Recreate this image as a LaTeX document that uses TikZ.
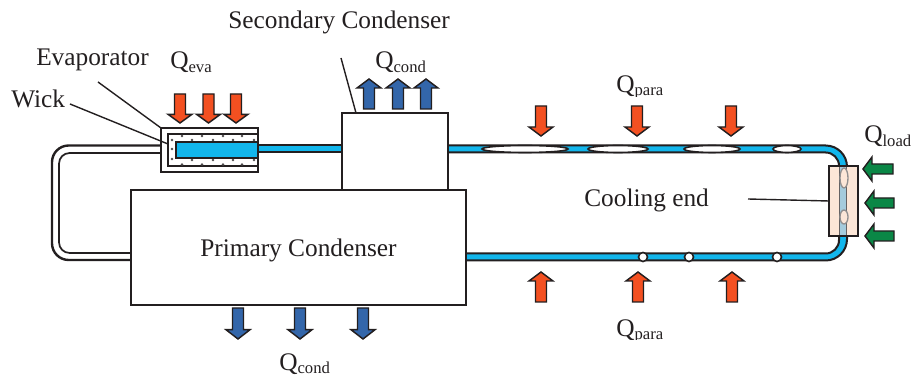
\documentclass[tikz,border=0pt]{standalone}
\usepackage{fontspec}
\usetikzlibrary{shapes.geometric}
\setmainfont{Liberation Serif}
\definecolor{pipeblue}{RGB}{18,182,236}
\definecolor{heatred}{RGB}{243,80,33}
\definecolor{coldblue}{RGB}{51,102,170}
\definecolor{loadgreen}{RGB}{10,135,70}
\definecolor{peach}{RGB}{252,230,215}
\definecolor{paleblue}{RGB}{165,203,220}
\definecolor{ink}{RGB}{35,31,32}
\tikzset{
  line/.style={draw=ink,line width=1.5},
  lead/.style={draw=ink,line width=1.05},
  txt/.style={text=ink,font=\fontsize{19}{19}\selectfont,inner sep=0,anchor=base west},
  bubble/.style={draw=ink,fill=white,line width=1.2},
  dot/.style={fill=ink!80,circle,inner sep=0,minimum size=1.9},
  blockarrow/.style={draw=ink,line width=1.1,fill=#1,miter limit=4},
  box/.style 2 args={minimum width=0.75*#1,minimum height=0.75*#2,inner sep=0,outer sep=0},
}
\newcommand{\Qsub}[1]{Q{\fontsize{12.5}{13}\selectfont\raisebox{-2.4pt}{#1}}}
\newcommand{\varrowblk}[4]{%
  \pgfmathsetmacro{\headb}{#3+(#2-#3)*0.3}%
  \draw[blockarrow=#4] (#1-5.5,#2) -- (#1+5.5,#2) -- (#1+5.5,\headb) -- (#1+12,\headb) -- (#1,#3) -- (#1-12,\headb) -- (#1-5.5,\headb) -- cycle;}
\newcommand{\harrowblk}[4]{%
  \draw[blockarrow=#4] (#1,#3-5) -- (#2+9,#3-5) -- (#2+9,#3-12) -- (#2,#3) -- (#2+9,#3+12) -- (#2+9,#3+5) -- (#1,#3+5) -- cycle;}
\begin{document}
\begin{tikzpicture}[x=0.75pt,y=-0.75pt]
\useasboundingbox (0,0) rectangle (913,377);
% white return line
\draw[line,line width=1.8,rounded corners=12.5] (161,145.5) -- (52,145.5) -- (52,260) -- (131,260);
\draw[line,line width=1.3,rounded corners=8] (161,153) -- (59,153) -- (59,253) -- (131,253);
% blue pipe
\draw[line,fill=pipeblue] (258,145.5) rectangle (342,152.5);
\draw[pipeblue,line width=5,rounded corners=13] (448,149) -- (843,149) -- (843,257) -- (466,257);
\draw[line,rounded corners=16] (448,145.5) -- (847,145.5) -- (847,260.5) -- (466,260.5);
\draw[line,rounded corners=10] (448,152.5) -- (839,152.5) -- (839,253.5) -- (466,253.5);
% evaporator
\node[line,fill=white,box={97}{44},anchor=north west] (evap) at (161,128) {};
\node[line,line width=1.2,fill=white,box={90}{32},anchor=north west] (wickbox) at (168,134) {};
\foreach \x in {182,202,223,242}{\node[dot] at (\x,136){}; \node[dot] at (\x,164.5){};}
\foreach \x in {192,213,233,254}{\node[dot] at (\x,140){}; \node[dot] at (\x,160){};}
\foreach \y in {140,149,159}{\node[dot] at (172,\y){};}
\node[line,line width=1.2,fill=pipeblue,box={82}{16},anchor=north west] (blue) at (176,142) {};
% blocks
\node[line,fill=white,box={106}{77},anchor=north west] (sec) at (342,113) {};
\node[line,fill=white,box={335}{115},anchor=north west] (pri) at (131,190) {};
% bubbles
\node[bubble,ellipse,box={86}{7}] at (525,149) {};
\node[bubble,ellipse,box={60}{7}] at (618,149) {};
\node[bubble,ellipse,box={56}{7}] at (712,149) {};
\node[bubble,ellipse,box={28}{7}] at (787,149) {};
\node[bubble,circle,box={9}{9}] at (643,257) {};
\node[bubble,circle,box={9}{9}] at (689,257) {};
\node[bubble,circle,box={9}{9}] at (777,257) {};
% cooling end
\node[draw=ink,line width=1.2,fill=peach,box={29}{70},anchor=north west] (cool) at (829,166) {};
\fill[paleblue] (839.5,166.6) rectangle (846.5,235.4);
\draw[ink!70,line width=.5] (839.5,166.6) -- (839.5,235.4) (846.5,166.6) -- (846.5,235.4);
\node[draw=ink!50,line width=1,fill=peach,ellipse,box={8}{20}] at (844,178) {};
\node[draw=ink!50,line width=1,fill=peach,ellipse,box={8}{14}] at (844,217) {};
% arrows
\varrowblk{180}{94}{123}{heatred}
\varrowblk{208.5}{94}{123}{heatred}
\varrowblk{236}{94}{123}{heatred}
\varrowblk{369}{109}{79}{coldblue}
\varrowblk{398}{109}{79}{coldblue}
\varrowblk{426}{109}{79}{coldblue}
\varrowblk{541}{106}{136}{heatred}
\varrowblk{637}{106}{136}{heatred}
\varrowblk{731}{106}{136}{heatred}
\varrowblk{541}{302}{272}{heatred}
\varrowblk{638}{302}{272}{heatred}
\varrowblk{732}{302}{272}{heatred}
\varrowblk{238}{308}{339}{coldblue}
\varrowblk{300}{308}{339}{coldblue}
\varrowblk{363}{308}{339}{coldblue}
\harrowblk{893}{863}{169}{loadgreen}
\harrowblk{894}{865}{203}{loadgreen}
\harrowblk{894}{865}{236}{loadgreen}
% labels
\node[txt] (lsec) at (228,29) {Secondary Condenser};
\node[txt] (levap) at (36,66) {Evaporator};
\node[txt] (lwick) at (11,108) {Wick};
\node[txt] (lqe) at (170,69) {\Qsub{eva}};
\node[txt] (lqc) at (375,69) {\Qsub{cond}};
\begin{scope}
\clip (600,60) rectangle (680,96.5);
\node[txt] (lqp) at (616,92.5) {\Qsub{para}};
\end{scope}
\node[txt] (lql) at (864,143) {\Qsub{load}};
\begin{scope}
\clip (600,300) rectangle (680,340);
\node[txt] (lqpb) at (616,336) {\Qsub{para}};
\end{scope}
\begin{scope}
\clip (270,345) rectangle (340,374);
\node[txt] (lqcb) at (279,370) {\Qsub{cond}};
\end{scope}
\node[txt] (lcool) at (584,207) {Cooling end};
\node[txt] (lpri) at (200,257) {Primary Condenser};
% lead lines
\coordinate (e1) at (98,82);
\coordinate (w1) at (70,104);
\coordinate (s1) at (341,58);
\coordinate (c1) at (748,199);
\draw[lead] (e1) -- (evap.north west);
\draw[lead] (w1) -- (wickbox.west |- 0,144);
\draw[lead] (s1) -- (sec.north west -| 356,0);
\draw[lead] (c1) -- (cool.west |- 0,201);
\end{tikzpicture}
\end{document}
